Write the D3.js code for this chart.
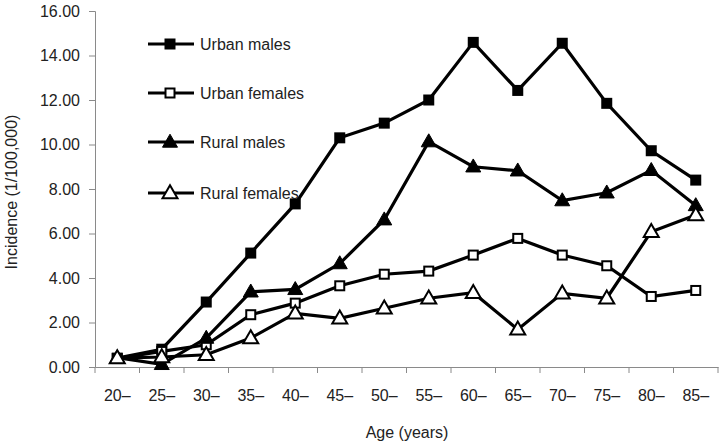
<!DOCTYPE html>
<html><head><meta charset="utf-8">
<script src="https://cdn.jsdelivr.net/npm/d3@7"></script>
<style>body{margin:0;background:#fff}text{font-family:"Liberation Sans",Arial,sans-serif;fill:#222}</style>
</head><body><svg id="c" width="722" height="444"></svg>
<script>
const categories = ["20–","25–","30–","35–","40–","45–","50–","55–","60–","65–","70–","75–","80–","85–"];
const urbanMales   = [0.40,0.80,2.92,5.12,7.33,10.30,10.96,12.00,14.59,12.43,14.55,11.85,9.72,8.40];
const urbanFemales = [0.38,0.70,1.00,2.35,2.87,3.65,4.17,4.31,5.03,5.78,5.03,4.55,3.17,3.44];
const ruralMales   = [0.42,0.12,1.30,3.38,3.49,4.65,6.62,10.13,9.00,8.82,7.48,7.83,8.84,7.26];
const ruralFemales = [0.40,0.45,0.55,1.30,2.41,2.19,2.64,3.09,3.34,1.69,3.31,3.09,6.08,6.83];
const seriesNames  = ["Urban males","Urban females","Rural males","Rural females"];
const yTicks = [0,2,4,6,8,10,12,14,16];

const series = [
  {name:seriesNames[0], values:urbanMales,   shape:"square",   filled:true},
  {name:seriesNames[1], values:urbanFemales, shape:"square",   filled:false},
  {name:seriesNames[2], values:ruralMales,   shape:"triangle", filled:true},
  {name:seriesNames[3], values:ruralFemales, shape:"triangle", filled:false}
];

const svg = d3.select("#c");
const x = d3.scaleBand().domain(categories).range([95,718]).padding(0);
const y = d3.scaleLinear().domain([0,16]).range([367,11]);
const axisColor = "#8a8a8a";

// y axis
const ya = svg.append("g").attr("transform","translate(95,0)")
  .call(d3.axisLeft(y).tickValues(yTicks).tickSize(6).tickPadding(9).tickFormat(d3.format(".2f")));
ya.select(".domain").attr("stroke",axisColor);
ya.selectAll(".tick line").attr("stroke",axisColor);
ya.selectAll(".tick text").style("font-size","16px").attr("fill","#222").style("font-family","'Liberation Sans',Arial,sans-serif");

// x axis
const xa = svg.append("g").attr("transform","translate(0,367)")
  .call(d3.axisBottom(x).tickSize(0).tickPadding(23));
xa.select(".domain").attr("stroke",axisColor);
xa.selectAll(".tick text").style("font-size","16px").attr("fill","#222").style("font-family","'Liberation Sans',Arial,sans-serif");
// boundary ticks
const bounds = categories.map(c => x(c)).concat([x.range()[1]]);
xa.selectAll("line.bt").data(bounds).enter().append("line").attr("class","bt")
  .attr("x1",d=>d).attr("x2",d=>d).attr("y1",0).attr("y2",6).attr("stroke",axisColor);

// axis titles
svg.append("text").attr("transform","translate(17,192) rotate(-90)").attr("text-anchor","middle")
  .style("font-size","16px").text("Incidence (1/100,000)");
svg.append("text").attr("x",407).attr("y",438).attr("text-anchor","middle")
  .style("font-size","16px").text("Age (years)");

function drawMarker(g, s, cx, cy) {
  if (s.shape === "square") {
    if (s.filled) g.append("rect").attr("x",cx-5.5).attr("y",cy-5.5).attr("width",11).attr("height",11).attr("fill","#000");
    else g.append("rect").attr("x",cx-4.5).attr("y",cy-4.5).attr("width",9).attr("height",9).attr("fill","#fff").attr("stroke","#000").attr("stroke-width",2);
  } else {
    const w = 7.5, h = 13;
    const pts = [[cx,cy-h*0.6],[cx+w,cy+h*0.4],[cx-w,cy+h*0.4]];
    g.append("polygon").attr("points",pts.map(p=>p.join(",")).join(" "))
      .attr("fill", s.filled ? "#000" : "#fff").attr("stroke","#000").attr("stroke-width", s.filled?1:2)
      .attr("stroke-linejoin","miter");
  }
}

const line = d3.line().x((d,i)=>x(categories[i])+x.bandwidth()/2).y(d=>y(d));
series.forEach(s => {
  svg.append("path").attr("d",line(s.values)).attr("fill","none").attr("stroke","#000").attr("stroke-width",3.2).attr("stroke-linejoin","miter");
});
series.forEach(s => {
  const g = svg.append("g");
  s.values.forEach((v,i) => drawMarker(g, s, x(categories[i])+x.bandwidth()/2, y(v)));
});

// legend
const legY = [44,93,142,193];
series.forEach((s,i) => {
  const g = svg.append("g");
  g.append("line").attr("x1",148).attr("x2",194).attr("y1",legY[i]).attr("y2",legY[i]).attr("stroke","#000").attr("stroke-width",3.2);
  drawMarker(g, s, 170, legY[i]);
  g.append("text").attr("x",200).attr("y",legY[i]+6).style("font-size","16px").text(s.name);
});
</script></body></html>
